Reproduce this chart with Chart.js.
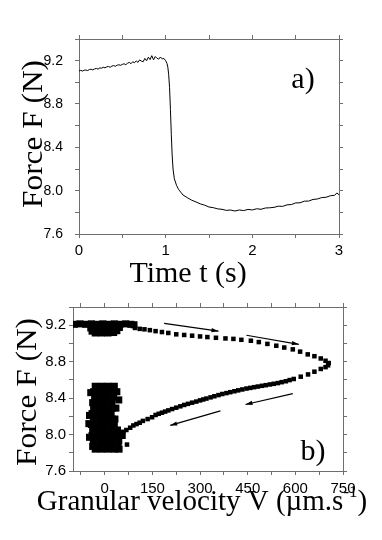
<!DOCTYPE html>
<html>
<head>
<meta charset="utf-8">
<script src="https://cdn.jsdelivr.net/npm/chart.js@4.4.0/dist/chart.umd.min.js"></script>
<style>
html, body { margin: 0; padding: 0; background: #fff; }
#wrap { position: relative; width: 382px; height: 540px; }
canvas { position: absolute; left: 0; }
</style>
</head>
<body>
<div id="wrap">
  <canvas id="chart-a" width="382" height="290" style="top:0"></canvas>
  <canvas id="chart-b" width="382" height="250" style="top:290px"></canvas>
</div>
<script>
// --- panel a) : force vs time ---
const timeS = [
  0.00, 0.02, 0.04, 0.06, 0.08, 0.10, 0.12, 0.14, 0.16, 0.18,
  0.20, 0.22, 0.24, 0.26, 0.28, 0.30, 0.32, 0.34, 0.36, 0.38,
  0.40, 0.42, 0.44, 0.46, 0.48, 0.50, 0.52, 0.54, 0.56, 0.58,
  0.60, 0.62, 0.64, 0.66, 0.68, 0.70, 0.72, 0.74, 0.76, 0.78,
  0.80, 0.82, 0.84, 0.86, 0.88, 0.90, 0.92, 0.94, 0.96, 0.98,
  1.000, 1.015, 1.025, 1.035, 1.045, 1.055, 1.065, 1.075, 1.085, 1.100,
  1.125, 1.150, 1.175, 1.200, 1.250, 1.300, 1.350, 1.400, 1.450, 1.500,
  1.550, 1.600, 1.650, 1.700, 1.750, 1.800, 1.850, 1.900, 1.950, 2.000,
  2.050, 2.100, 2.150, 2.200, 2.250, 2.300, 2.350, 2.400, 2.450, 2.500,
  2.550, 2.600, 2.650, 2.700, 2.750, 2.800, 2.850, 2.900, 2.950, 2.975, 3.000
];
const forceA = [
  9.105, 9.110, 9.104, 9.112, 9.113, 9.109, 9.118, 9.121, 9.114, 9.124,
  9.128, 9.122, 9.133, 9.131, 9.139, 9.134, 9.143, 9.146, 9.139, 9.150,
  9.155, 9.148, 9.158, 9.162, 9.157, 9.166, 9.171, 9.163, 9.176, 9.184,
  9.172, 9.190, 9.181, 9.198, 9.184, 9.207, 9.196, 9.190, 9.221, 9.199,
  9.232, 9.210, 9.246, 9.208, 9.238, 9.222, 9.214, 9.234, 9.216, 9.220,
  9.200, 9.175, 9.140, 9.070, 8.950, 8.750, 8.520, 8.330, 8.200, 8.110,
  8.050, 8.010, 7.985, 7.960, 7.935, 7.912, 7.896, 7.878, 7.866, 7.849,
  7.843, 7.832, 7.828, 7.818, 7.821, 7.812, 7.822, 7.816, 7.827, 7.822,
  7.833, 7.828, 7.840, 7.842, 7.846, 7.857, 7.855, 7.869, 7.872, 7.887,
  7.888, 7.903, 7.904, 7.919, 7.923, 7.936, 7.939, 7.953, 7.957, 7.979, 7.962
];
const timeTicks = [0, 0.5, 1, 1.5, 2, 2.5, 3];
const timeLabels = [0, 1, 2, 3];

// shared force axis
const forceTicks = [7.6, 7.8, 8.0, 8.2, 8.4, 8.6, 8.8, 9.0, 9.2, 9.4];
const forceLabels = [7.6, 8.0, 8.4, 8.8, 9.2];

// --- panel b) : force vs granular velocity ---
// stick phases (dense clusters near V = 0)
const stickV = [
  -96, -78, -60, -42, -24, -6, 12, 30, 48, 66, 82, 92,
  -44, -24, -4, 16, 36, 46,
  -40, -20, 0, 20, 38,
  -30, -10, 10, 28,
  -30, -10, 10, 30, -44,
  -35, -15, 5, 25, 38,
  -32, -12, 8, 28, 44,
  -38, -18, 2, 22,
  -35, -15, 5, 25, 35, -48,
  -40, -20, 0, 20,
  -36, -16, 4, 24, 32, -50,
  -42, -22, -2, 18, 30,
  -38, -18, 2, 22, 40,
  -40, -20, 0, 20, 40, 55,
  -36, -16, 4, 24, 44, -48,
  -38, -18, 2, 22, 42,
  -30, -10, 10, 30, 45
];
const stickF = [
  9.21, 9.215, 9.21, 9.215, 9.21, 9.215, 9.21, 9.215, 9.21, 9.215, 9.21, 9.205,
  9.17, 9.17, 9.17, 9.17, 9.17, 9.175,
  9.135, 9.13, 9.13, 9.13, 9.14,
  9.115, 9.115, 9.115, 9.12,
  8.53, 8.53, 8.53, 8.53, 8.46,
  8.47, 8.47, 8.47, 8.47, 8.47,
  8.41, 8.41, 8.41, 8.41, 8.38,
  8.35, 8.35, 8.35, 8.35,
  8.29, 8.29, 8.29, 8.29, 8.29, 8.21,
  8.23, 8.23, 8.23, 8.23,
  8.17, 8.17, 8.17, 8.17, 8.17, 8.12,
  8.11, 8.11, 8.11, 8.11, 8.11,
  8.05, 8.05, 8.05, 8.05, 8.05,
  7.99, 7.99, 7.99, 7.99, 7.99, 7.99,
  7.93, 7.93, 7.93, 7.93, 7.93, 7.97,
  7.87, 7.87, 7.87, 7.87, 7.87,
  7.84, 7.84, 7.84, 7.84, 7.84
];
// slip loop
const slipV = [
  95, 110, 125, 142, 160, 180, 200, 225, 250, 275, 300, 323, 350, 380, 405,
  430, 460, 485, 512, 540, 565, 592, 615, 639, 660, 680, 695, 705,
  703, 695, 680, 660, 640, 617, 595, 582, 570, 557, 545, 532, 520, 507, 495, 482,
  470, 458, 446, 433, 420, 408, 395, 383, 370, 358, 345, 333, 320, 310, 300, 288,
  275, 262, 250, 238, 225, 212, 200, 190, 180, 170, 160, 149, 135, 120, 110, 100,
  90, 80, 68, 58, 70
];
const slipF = [
  9.17, 9.16, 9.155, 9.146, 9.135, 9.125, 9.115, 9.10, 9.093, 9.085, 9.077, 9.07, 9.062, 9.055, 9.05,
  9.04, 9.03, 9.015, 8.995, 8.975, 8.955, 8.935, 8.91, 8.88, 8.86, 8.835, 8.81, 8.785,
  8.76, 8.74, 8.72, 8.69, 8.66, 8.635, 8.61, 8.598, 8.585, 8.575, 8.565, 8.557, 8.55, 8.542, 8.535, 8.527,
  8.52, 8.512, 8.505, 8.495, 8.485, 8.475, 8.465, 8.455, 8.445, 8.433, 8.42, 8.408, 8.395, 8.385, 8.375, 8.362,
  8.35, 8.337, 8.325, 8.31, 8.295, 8.28, 8.265, 8.252, 8.24, 8.228, 8.215, 8.19, 8.17, 8.15, 8.13, 8.115,
  8.10, 8.075, 8.05, 8.03, 7.89
];
// direction arrows (tail -> head)
const arrowFromV = [187, 446, 592, 364];
const arrowFromF = [9.22, 9.09, 8.45, 8.26];
const arrowToV = [358, 611, 443, 206];
const arrowToF = [9.135, 8.99, 8.33, 8.10];
const velTicks = [-75, 0, 75, 150, 225, 300, 375, 450, 525, 600, 675, 750];
const velLabels = [0, 150, 300, 450, 600, 750];

const frameColor = '#6e6e6e';
const sansFont = "'Liberation Sans', Arial, sans-serif";
const serifFont = "'Liberation Serif', 'Times New Roman', serif";

function toPoints(xs, ys) {
  return xs.map((x, i) => ({ x: x, y: ys[i] }));
}

// builds the 4 box axes; only bottom/left carry labels
function boxScales(o) {
  const grid = { drawOnChartArea: false, tickLength: 4, color: frameColor, lineWidth: 1 };
  const border = { display: true, color: frameColor, width: 1 };
  const setTicks = list => scale => { scale.ticks = list.map(v => ({ value: v })); };
  const clearPad = s => { s.paddingLeft = s.paddingRight = s.paddingTop = s.paddingBottom = 0; };
  return {
    x: {
      type: 'linear', position: 'bottom', min: o.xMin, max: o.xMax,
      afterBuildTicks: setTicks(o.xTicks),
      afterFit: s => { s.height = o.bottom; clearPad(s); },
      grid: grid, border: border,
      ticks: {
        autoSkip: false, maxRotation: 0, color: '#000', padding: o.xPad,
        font: { family: sansFont, size: o.xFont },
        callback: v => o.xLabels.includes(v) ? String(v) : ''
      }
    },
    x2: {
      type: 'linear', position: 'top', min: o.xMin, max: o.xMax,
      afterBuildTicks: setTicks(o.xTicks),
      afterFit: s => { s.height = o.top; clearPad(s); },
      grid: grid, border: border, ticks: { display: false }
    },
    y: {
      type: 'linear', position: 'left', min: 7.6, max: 9.4,
      afterBuildTicks: setTicks(forceTicks),
      afterFit: s => { s.width = o.left; clearPad(s); },
      grid: grid, border: border,
      ticks: {
        autoSkip: false, color: '#000', padding: o.yPad,
        font: { family: sansFont, size: o.yFont },
        callback: v => forceLabels.includes(v) ? v.toFixed(1) : ''
      }
    },
    y2: {
      type: 'linear', position: 'right', min: 7.6, max: 9.4,
      afterBuildTicks: setTicks(forceTicks),
      afterFit: s => { s.width = o.right; clearPad(s); },
      grid: grid, border: border, ticks: { display: false }
    }
  };
}

// axis titles and panel letters; each item is a row of parts (for superscripts)
const textPlugin = {
  id: 'panelText',
  afterDraw(chart, args, opts) {
    const ctx = chart.ctx;
    opts.items.forEach(it => {
      const parts = it.parts || [{ text: it.text, font: it.font, dy: 0 }];
      ctx.save();
      ctx.fillStyle = '#000';
      ctx.textAlign = 'left';
      ctx.textBaseline = 'alphabetic';
      ctx.translate(it.x, it.y);
      if (it.rotate) ctx.rotate(-Math.PI / 2);
      ctx.scale(it.stretch || 1, 1);
      let total = 0;
      parts.forEach(p => { ctx.font = p.font; total += ctx.measureText(p.text).width; });
      let cx = -total / 2;
      parts.forEach(p => {
        ctx.font = p.font;
        ctx.fillText(p.text, cx, p.dy || 0);
        cx += ctx.measureText(p.text).width;
      });
      ctx.restore();
    });
  }
};

const arrowPlugin = {
  id: 'arrows',
  afterDatasetsDraw(chart) {
    const ctx = chart.ctx;
    const sx = chart.scales.x, sy = chart.scales.y;
    ctx.save();
    ctx.strokeStyle = '#000';
    ctx.fillStyle = '#000';
    ctx.lineWidth = 1.2;
    arrowFromV.forEach((v, i) => {
      const x0 = sx.getPixelForValue(v), y0 = sy.getPixelForValue(arrowFromF[i]);
      const x1 = sx.getPixelForValue(arrowToV[i]), y1 = sy.getPixelForValue(arrowToF[i]);
      const a = Math.atan2(y1 - y0, x1 - x0);
      ctx.beginPath();
      ctx.moveTo(x0, y0);
      ctx.lineTo(x1, y1);
      ctx.stroke();
      ctx.beginPath();
      ctx.moveTo(x1, y1);
      ctx.lineTo(x1 - 7 * Math.cos(a) + 2.2 * Math.sin(a), y1 - 7 * Math.sin(a) - 2.2 * Math.cos(a));
      ctx.lineTo(x1 - 7 * Math.cos(a) - 2.2 * Math.sin(a), y1 - 7 * Math.sin(a) + 2.2 * Math.cos(a));
      ctx.closePath();
      ctx.fill();
    });
    ctx.restore();
  }
};

new Chart(document.getElementById('chart-a'), {
  type: 'line',
  data: {
    datasets: [{
      data: toPoints(timeS, forceA),
      borderColor: '#000',
      borderWidth: 1,
      pointRadius: 0,
      tension: 0
    }]
  },
  options: {
    responsive: false,
    animation: false,
    layout: { padding: 0 },
    plugins: {
      legend: { display: false },
      tooltip: { enabled: false },
      panelText: {
        items: [
          { text: 'Force F (N)', x: 42, y: 134, rotate: true, stretch: 1.08, font: `29px ${serifFont}` },
          { text: 'Time t (s)', x: 188, y: 282, font: `30px ${serifFont}` },
          { text: 'a)', x: 303, y: 88, font: `30px ${serifFont}` }
        ]
      }
    },
    scales: boxScales({
      xMin: 0, xMax: 3, xTicks: timeTicks, xLabels: timeLabels,
      left: 79, right: 43, top: 39, bottom: 56,
      xPad: 4, yPad: 12, xFont: 15, yFont: 14
    })
  },
  plugins: [textPlugin]
});

new Chart(document.getElementById('chart-b'), {
  type: 'scatter',
  data: {
    datasets: [{
      data: toPoints(stickV, stickF),
      pointStyle: 'rect',
      pointRadius: 5,
      borderWidth: 0,
      backgroundColor: '#000'
    }, {
      data: toPoints(slipV, slipF),
      pointStyle: 'rect',
      pointRadius: 3.2,
      borderWidth: 0,
      backgroundColor: '#000'
    }]
  },
  options: {
    responsive: false,
    animation: false,
    layout: { padding: 0 },
    plugins: {
      legend: { display: false },
      tooltip: { enabled: false },
      panelText: {
        items: [
          { text: 'Force F (N)', x: 36, y: 102, rotate: true, stretch: 1.08, font: `29px ${serifFont}` },
          { x: 202, y: 220, parts: [
            { text: 'Granular velocity V (\u00b5m.s', font: `29px ${serifFont}`, dy: 0 },
            { text: '-1', font: `17px ${serifFont}`, dy: -13 },
            { text: ')', font: `29px ${serifFont}`, dy: 0 }
          ] },
          { text: 'b)', x: 313, y: 170, font: `30px ${serifFont}` }
        ]
      }
    },
    scales: boxScales({
      xMin: -100, xMax: 750, xTicks: velTicks, xLabels: velLabels,
      left: 73, right: 39, top: 17, bottom: 69,
      xPad: 5, yPad: 3, xFont: 15, yFont: 15
    })
  },
  plugins: [textPlugin, arrowPlugin]
});
</script>
</body>
</html>
